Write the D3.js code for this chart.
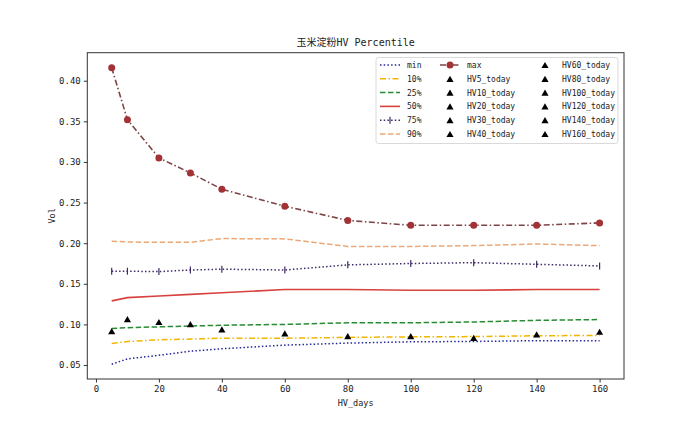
<!DOCTYPE html>
<html><head><meta charset="utf-8">
<script src="https://cdn.jsdelivr.net/npm/d3@7"></script>
<style>body{margin:0;background:#fff}svg{display:block}text{font-family:"DejaVu Sans Mono","Noto Sans CJK SC",monospace;fill:#222}</style>
</head><body>
<script>
const days = [5,10,20,30,40,60,80,100,120,140,160];
const minV = [0.051,0.0576,0.062,0.067,0.070,0.0745,0.077,0.0786,0.079,0.080,0.080];
const p10  = [0.0766,0.079,0.081,0.082,0.083,0.083,0.084,0.0847,0.085,0.086,0.0865];
const p25  = [0.095,0.096,0.097,0.098,0.099,0.100,0.102,0.102,0.103,0.105,0.106];
const p50  = [0.129,0.133,0.135,0.137,0.139,0.143,0.143,0.142,0.142,0.143,0.143];
const p75  = [0.1655,0.1655,0.165,0.167,0.168,0.167,0.1733,0.175,0.176,0.174,0.172];
const p90  = [0.2025,0.2015,0.201,0.201,0.2057,0.2053,0.196,0.196,0.197,0.199,0.197];
const maxV = [0.416,0.352,0.305,0.2865,0.2664,0.2455,0.228,0.222,0.222,0.222,0.225];
const today = [0.0918,0.1066,0.103,0.1003,0.0938,0.089,0.0856,0.0856,0.0835,0.0877,0.091];
const xTicks = [0,20,40,60,80,100,120,140,160];
const yTicks = [0.05,0.10,0.15,0.20,0.25,0.30,0.35,0.40];
const title = "玉米淀粉HV Percentile";

const W=693,H=433;
const L=87.3,R=624,T=52.7,B=379;
const svg=d3.select("body").append("svg").attr("width",W).attr("height",H);
const x=d3.scaleLinear().domain([-2.75,167.75]).range([L,R]);
const y=d3.scaleLinear().domain([0.0328,0.4345]).range([B,T]);

const series=[
 {name:"min",vals:minV,color:"#25259a",dash:"1.5,2.2",w:1.5},
 {name:"10%",vals:p10,color:"#f2b600",dash:"6,2.5,1.5,2.5",w:1.5},
 {name:"25%",vals:p25,color:"#2a8a36",dash:"5.5,2.5",w:1.5},
 {name:"50%",vals:p50,color:"#d8423e",dash:null,w:1.6},
 {name:"75%",vals:p75,color:"#3f2a68",dash:"1.5,2.2",w:1.5,marker:"vline"},
 {name:"90%",vals:p90,color:"#eba878",dash:"5.5,2.5",w:1.5},
 {name:"max",vals:maxV,color:"#7c4446",dash:"6,2.5,1.5,2.5",w:1.6,marker:"circle",mcolor:"#a23236"}
];

const line=d3.line().x((d,i)=>x(days[i])).y(d=>y(d));
const g=svg.append("g");
series.forEach(s=>{
  g.append("path").attr("d",line(s.vals)).attr("fill","none").attr("stroke",s.color)
   .attr("stroke-width",s.w).attr("stroke-dasharray",s.dash);
  if(s.marker==="circle"){
    g.selectAll(null).data(s.vals).enter().append("circle")
     .attr("cx",(d,i)=>x(days[i])).attr("cy",d=>y(d)).attr("r",3.5).attr("fill",s.mcolor);
  } else if(s.marker==="vline"){
    g.selectAll(null).data(s.vals).enter().append("line")
     .attr("x1",(d,i)=>x(days[i])).attr("x2",(d,i)=>x(days[i]))
     .attr("y1",d=>y(d)-3.5).attr("y2",d=>y(d)+3.5).attr("stroke",s.color).attr("stroke-width",1.2);
  }
});
const triSize=22;
const tri=d3.symbol().type(d3.symbolTriangle).size(triSize);
const triOff=Math.sqrt(triSize/(3*Math.sqrt(3)))/2; // shift centroid to bbox centre
g.selectAll(null).data(today).enter().append("path").attr("d",tri)
 .attr("transform",(d,i)=>`translate(${x(days[i])},${y(d)+triOff})`).attr("fill","#000");

// frame
svg.append("rect").attr("x",L).attr("y",T).attr("width",R-L).attr("height",B-T)
 .attr("fill","none").attr("stroke","#333").attr("stroke-width",1);

// axes
const xa=svg.append("g").attr("transform",`translate(0,${B})`)
 .call(d3.axisBottom(x).tickValues(xTicks).tickSize(3.5).tickPadding(3).tickFormat(d3.format("d")));
const ya=svg.append("g").attr("transform",`translate(${L},0)`)
 .call(d3.axisLeft(y).tickValues(yTicks).tickSize(3.5).tickPadding(3).tickFormat(d3.format(".2f")));
[xa,ya].forEach(a=>{a.select(".domain").remove();a.selectAll("line").attr("stroke","#333");
  a.selectAll("text").attr("font-size",9).attr("font-family","DejaVu Sans Mono").attr("fill","#222");});

svg.append("text").attr("x",(L+R)/2).attr("y",46).attr("text-anchor","middle").attr("font-size",10).text(title);
svg.append("text").attr("x",(L+R)/2).attr("y",406).attr("text-anchor","middle").attr("font-size",8.5).text("HV_days");
svg.append("text").attr("transform",`translate(55,${(T+B)/2}) rotate(-90)`).attr("text-anchor","middle").attr("font-size",8.5).text("Vol");

// legend
const lg=svg.append("g");
lg.append("rect").attr("x",376).attr("y",57.5).attr("width",242).attr("height",86).attr("rx",2.5)
 .attr("fill","#fff").attr("fill-opacity",0.85).attr("stroke","#d0d0d0").attr("stroke-width",0.8);
const rowY=i=>65+i*13.8;
const col1=series.slice(0,6);
col1.forEach((s,i)=>{
  const yy=rowY(i);
  lg.append("line").attr("x1",380).attr("x2",400).attr("y1",yy).attr("y2",yy)
   .attr("stroke",s.color).attr("stroke-width",s.w).attr("stroke-dasharray",s.dash);
  if(s.marker==="vline") lg.append("line").attr("x1",390).attr("x2",390).attr("y1",yy-3.5).attr("y2",yy+3.5).attr("stroke",s.color).attr("stroke-width",1.2);
  lg.append("text").attr("x",407).attr("y",yy+3).attr("font-size",8).text(s.name);
});
const mx=series[6];
lg.append("line").attr("x1",440).attr("x2",460).attr("y1",rowY(0)).attr("y2",rowY(0))
 .attr("stroke",mx.color).attr("stroke-width",mx.w).attr("stroke-dasharray",mx.dash);
lg.append("circle").attr("cx",450).attr("cy",rowY(0)).attr("r",3.5).attr("fill",mx.mcolor);
lg.append("text").attr("x",467).attr("y",rowY(0)+3).attr("font-size",8).text("max");
days.forEach((d,k)=>{
  const idx=k+1; const col=idx<6?0:1; const row=idx<6?idx:idx-6;
  const cx=col===0?450:545, tx=col===0?467:562;
  lg.append("path").attr("d",tri).attr("transform",`translate(${cx},${rowY(row)+triOff})`).attr("fill","#000");
  lg.append("text").attr("x",tx).attr("y",rowY(row)+3).attr("font-size",8).text(`HV${d}_today`);
});
</script>
</body></html>
